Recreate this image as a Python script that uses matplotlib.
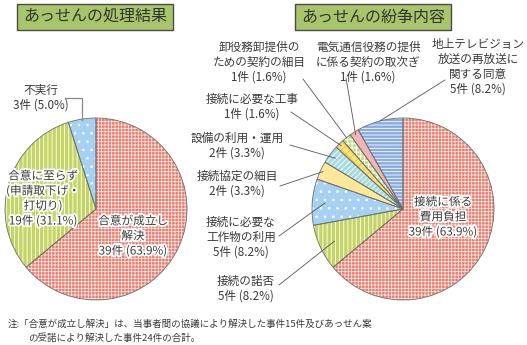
import matplotlib
matplotlib.use("Agg")
import matplotlib.pyplot as plt
import matplotlib.patheffects as pe
from matplotlib.patches import Rectangle
import numpy as np

plt.rcParams['font.family'] = ['Noto Sans CJK JP', 'DejaVu Sans']
plt.rcParams['hatch.linewidth'] = 0.6

# あっせんの処理結果
result_labels = ["合意が成立し\n解決", "合意に至らず\n(申請取下げ・\n打切り)", "不実行"]
result_counts = [39, 19, 3]
result_pcts = [63.9, 31.1, 5.0]

# あっせんの紛争内容
dispute_labels = ["接続に係る\n費用負担", "接続の諾否", "接続に必要な\n工作物の利用",
                  "接続協定の細目", "設備の利用・運用", "接続に必要な工事",
                  "卸役務卸提供の\nための契約の細目", "電気通信役務の提供\nに係る契約の取次ぎ",
                  "地上テレビジョン\n放送の再放送に\n関する同意"]
dispute_counts = [39, 5, 5, 2, 2, 1, 1, 1, 5]
dispute_pcts = [63.9, 8.2, 8.2, 3.3, 3.3, 1.6, 1.6, 1.6, 8.2]

note = ["注:「合意が成立し解決」は、当事者間の協議により解決した事件15件及びあっせん案",
        "の受諾により解決した事件24件の合計。"]

W, H = 527, 345
TXT = "#3a3a3a"
LINE = "#555555"

result_colors = ["#e47e70", "#c5d563", "#a6d1f2"]
result_hatches = ["+++++", "||||", ".."]
result_hcol = ["#fbe3de", "white", "white"]
dispute_colors = ["#e47e70", "#c5d563", "#a6d1f2", "#fde899", "#a5dbe0",
                  "#f8e37c", "#c7df8f", "#eeb6b6", "#8aabe0"]
dispute_hatches = ["+++++", "||||", "..", "", "//////", "xxxx", "++++", "", "-----"]
dispute_hcol = ["#fbe3de", "white", "white", "white", "white", "#e8c93a", "white", "white", "white"]

fig = plt.figure(figsize=(W / 100, H / 100), dpi=100)
ax = fig.add_axes([0, 0, 1, 1])


def Y(y):
    return H - y


def draw_pie(values, colors, hatches, hcols, center, r):
    wedges, _ = ax.pie(values, colors=colors, startangle=90, counterclock=False,
                       center=center, radius=r, frame=True,
                       wedgeprops=dict(linewidth=0))
    for w, h, c in zip(wedges, hatches, hcols):
        w.set_hatch(h)
        w.set_edgecolor(c)
    ax.pie(values, startangle=90, counterclock=False, center=center, radius=r,
           frame=True, wedgeprops=dict(fill=False, edgecolor="#6e6e6e", linewidth=0.6))
    return wedges


def edge_point(w, center, r, frac):
    a = np.deg2rad((w.theta1 + w.theta2) / 2)
    return center[0] + r * frac * np.cos(a), center[1] + r * frac * np.sin(a)


halo = [pe.withStroke(linewidth=2.6, foreground="white")]
fs = 8.4

# left pie
lc = (96, Y(209))
lr = 91
lw_ = draw_pie(result_counts, result_colors, result_hatches, result_hcol, lc, lr)
result_txt = [f"{l}\n{c}件 ({p:.1f}%)" for l, c, p in zip(result_labels, result_counts, result_pcts)]
ax.text(133, Y(236), result_txt[0], ha="center", va="center", fontsize=fs, color=TXT,
        linespacing=1.2, path_effects=halo)
ax.text(43, Y(198.5), result_txt[1], ha="center", va="center", fontsize=fs, color=TXT,
        linespacing=1.2, path_effects=halo)
ax.text(41, Y(97.5), result_txt[2], ha="center", va="center", fontsize=fs, color=TXT,
        linespacing=1.2)
ex, ey = edge_point(lw_[2], lc, lr, 0.99)
ax.plot([65, ex, ex], [Y(98), Y(98), ey], color="#888888", lw=0.9)

# right pie
rc = (403, Y(209))
rr = 91
rw = draw_pie(dispute_counts, dispute_colors, dispute_hatches, dispute_hcol, rc, rr)
dispute_txt = [f"{l}\n{c}件 ({p:.1f}%)" for l, c, p in zip(dispute_labels, dispute_counts, dispute_pcts)]
text_xy = [(443, 217), (246, 289), (241, 237), (237, 184), (237, 145.5),
           (252, 106.5), (259, 62.5), (368, 62.5), (478, 67)]
line_start = [None, (279, 285), (279, 236), (280, 186), (290, 145),
              (291, 112), (303, 79), (346, 78), (445, 80)]
line_frac = [0, 0.83, 0.86, 0.97, 0.93, 0.97, 1.0, 0.97, 1.0]
for i, (t, xy) in enumerate(zip(dispute_txt, text_xy)):
    ax.text(xy[0], Y(xy[1]), t, ha="center", va="center", fontsize=fs, color=TXT,
            linespacing=1.2, path_effects=halo if i == 0 else None)
    if line_start[i] is not None:
        px, py = edge_point(rw[i], rc, rr, line_frac[i])
        ax.plot([line_start[i][0], px], [Y(line_start[i][1]), py], color=LINE, lw=0.6)

# title boxes
for x0, title in [(17, "あっせんの処理結果"), (295, "あっせんの紛争内容")]:
    ax.add_patch(Rectangle((x0, Y(30)), 156, 26, facecolor="#a7c56b",
                           edgecolor="#4a4a4a", lw=1.0))
    ax.text(x0 + 78, Y(17), title, ha="center", va="center", fontsize=11.5, color="#333333")

ax.text(8, Y(324), note[0], ha="left", va="center", fontsize=6.85, color=TXT)
ax.text(28, Y(338), note[1], ha="left", va="center", fontsize=6.85, color=TXT)

ax.set_xlim(0, W)
ax.set_ylim(0, H)
ax.set_aspect("equal")
ax.axis("off")

fig.savefig("out.png", dpi=100)
